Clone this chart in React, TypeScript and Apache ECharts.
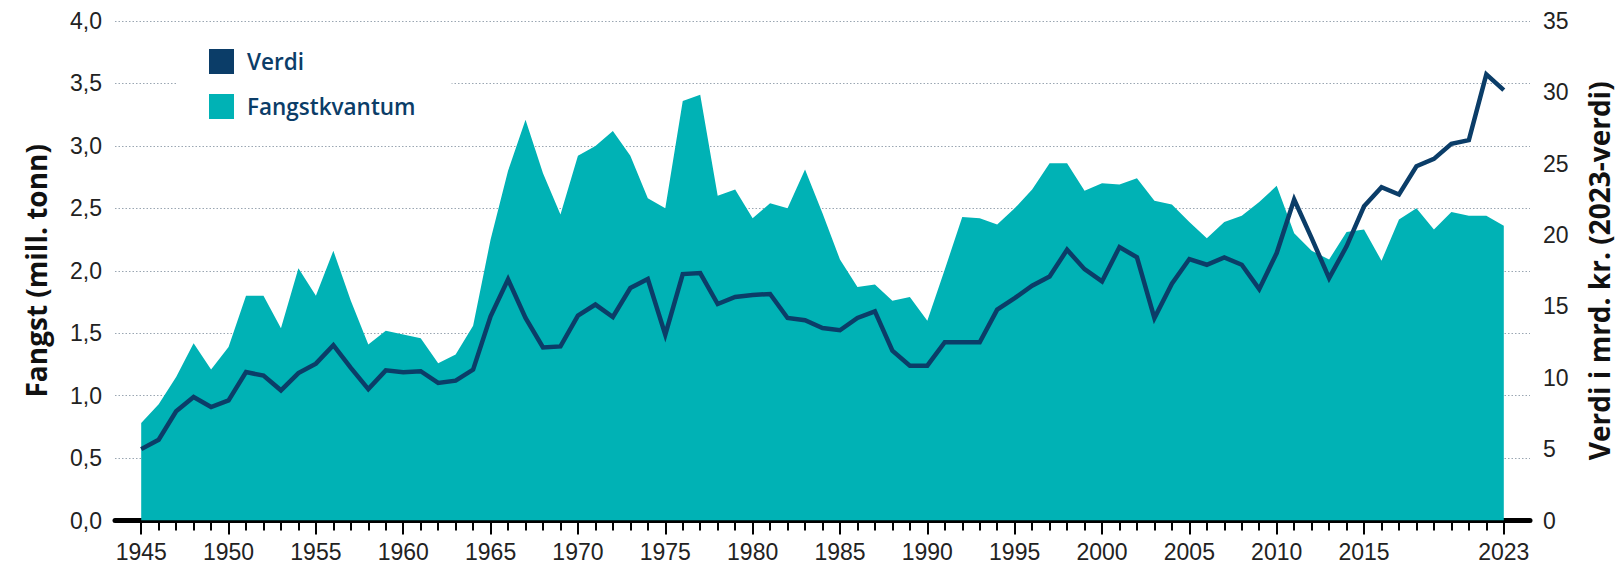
import React, { useEffect, useRef } from "react";
import * as echarts from "echarts";

const years = [
  1945, 1946, 1947, 1948, 1949, 1950, 1951, 1952, 1953, 1954,
  1955, 1956, 1957, 1958, 1959, 1960, 1961, 1962, 1963, 1964,
  1965, 1966, 1967, 1968, 1969, 1970, 1971, 1972, 1973, 1974,
  1975, 1976, 1977, 1978, 1979, 1980, 1981, 1982, 1983, 1984,
  1985, 1986, 1987, 1988, 1989, 1990, 1991, 1992, 1993, 1994,
  1995, 1996, 1997, 1998, 1999, 2000, 2001, 2002, 2003, 2004,
  2005, 2006, 2007, 2008, 2009, 2010, 2011, 2012, 2013, 2014,
  2015, 2016, 2017, 2018, 2019, 2020, 2021, 2022, 2023,
];

// Fangstkvantum, mill. tonn
const fangst = [
  0.78, 0.93, 1.15, 1.42, 1.21, 1.39, 1.8, 1.8, 1.54, 2.02,
  1.8, 2.16, 1.76, 1.41, 1.52, 1.49, 1.46, 1.26, 1.33, 1.56,
  2.25, 2.8, 3.21, 2.78, 2.45, 2.92, 3.0, 3.12, 2.92, 2.58,
  2.5, 3.36, 3.41, 2.6, 2.65, 2.42, 2.54, 2.5, 2.81, 2.46,
  2.09, 1.87, 1.89, 1.76, 1.79, 1.6, 2.01, 2.43, 2.42, 2.37,
  2.5, 2.65, 2.86, 2.86, 2.64, 2.7, 2.69, 2.74, 2.56, 2.53,
  2.39, 2.26, 2.39, 2.44, 2.55, 2.68, 2.3, 2.16, 2.09, 2.31,
  2.33, 2.08, 2.41, 2.5, 2.33, 2.47, 2.44, 2.44, 2.36,
];

// Verdi, mrd. kr. (2023-verdi)
const verdi = [
  5.0, 5.66, 7.65, 8.65, 7.95, 8.42, 10.4, 10.15, 9.12, 10.33,
  10.99, 12.28, 10.69, 9.21, 10.52, 10.39, 10.46, 9.64, 9.8, 10.57,
  14.31, 16.89, 14.2, 12.13, 12.2, 14.35, 15.13, 14.26, 16.29, 16.92,
  13.02, 17.27, 17.34, 15.17, 15.66, 15.8, 15.87, 14.19, 14.03, 13.49,
  13.33, 14.19, 14.66, 11.9, 10.85, 10.85, 12.49, 12.49, 12.49, 14.78,
  15.58, 16.45, 17.1, 18.97, 17.61, 16.75, 19.16, 18.44, 14.18, 16.59,
  18.32, 17.92, 18.44, 17.92, 16.21, 18.74, 22.49, 19.79, 16.98, 19.21,
  22.02, 23.35, 22.84, 24.82, 25.34, 26.39, 26.65, 31.26, 30.16,
];

const xTickLabels = [
  "1945", "1950", "1955", "1960", "1965", "1970", "1975", "1980",
  "1985", "1990", "1995", "2000", "2005", "2010", "2015", "2023",
];

const TEAL = "#00b2b5";
const NAVY = "#0b3d68";
const LABEL_FONT = "Liberation Sans";

export default function App() {
  const ref = useRef<HTMLDivElement>(null);

  useEffect(() => {
    if (!ref.current) return;
    const chart = echarts.init(ref.current, undefined, { renderer: "svg" });

    // one empty slot on each side of the data
    const cats = [String(years[0] - 1), ...years.map(String), String(years[years.length - 1] + 1)];
    const pad = (arr: number[]) => [null, ...arr, null];

    const isYearTick = (i: number) => i >= 1 && i <= years.length;
    const isMajor = (_i: number, v: string) => xTickLabels.includes(v);

    const option: any = {
      animation: false,
      grid: { left: 115, right: 91, top: 21, bottom: 44.5, containLabel: false },
      legend: {
        orient: "vertical",
        left: 178,
        top: 35,
        padding: [14, 36, 12, 31],
        backgroundColor: "#ffffff",
        itemWidth: 25,
        itemHeight: 25,
        itemGap: 20,
        selectedMode: false,
        data: [
          { name: "Verdi", icon: "rect" },
          { name: "Fangstkvantum", icon: "rect" },
        ],
        textStyle: {
          color: NAVY,
          fontSize: 22.5,
          fontWeight: 600,
          fontFamily: "Open Sans",
          padding: [0, 0, 0, 8],
        },
      },
      xAxis: [
        {
          type: "category",
          data: cats,
          boundaryGap: true,
          position: "bottom",
          axisLine: { show: true, onZero: false, lineStyle: { color: "#000", width: 5 } },
          axisTick: {
            show: true,
            alignWithLabel: true,
            interval: (i: number) => isYearTick(i),
            length: 10,
            lineStyle: { color: "#000", width: 2 },
          },
          axisLabel: {
            interval: isMajor,
            margin: 20,
            fontSize: 23,
            color: "#222",
            fontFamily: LABEL_FONT,
          },
          splitLine: { show: false },
        },
        {
          type: "category",
          data: cats,
          boundaryGap: true,
          position: "bottom",
          axisLine: { show: false, onZero: false },
          axisTick: {
            show: true,
            alignWithLabel: true,
            interval: isMajor,
            length: 14,
            lineStyle: { color: "#000", width: 2 },
          },
          axisLabel: { show: false },
          splitLine: { show: false },
        },
      ],
      yAxis: [
        {
          type: "value",
          position: "left",
          min: 0,
          max: 4,
          interval: 0.5,
          axisLine: { show: false },
          axisTick: { show: false },
          axisLabel: {
            margin: 13,
            fontSize: 23,
            color: "#222",
            fontFamily: LABEL_FONT,
            formatter: (v: number) => v.toFixed(1).replace(".", ","),
          },
          splitLine: {
            show: true,
            lineStyle: { color: "#9aa6b2", width: 1, type: [1.5, 2] },
          },
          name: "Fangst (mill. tonn)",
          nameLocation: "middle",
          nameRotate: 90,
          nameGap: 65,
          nameTextStyle: {
            fontSize: 28,
            fontWeight: "bold",
            color: "#111",
            fontFamily: "Open Sans",
          },
        },
        {
          type: "value",
          position: "right",
          min: 0,
          max: 35,
          interval: 5,
          axisLine: { show: false },
          axisTick: { show: false },
          axisLabel: {
            margin: 13,
            fontSize: 23,
            color: "#222",
            fontFamily: LABEL_FONT,
          },
          splitLine: { show: false },
          name: "Verdi i mrd. kr. (2023-verdi)",
          nameLocation: "middle",
          nameRotate: 90,
          nameGap: 55,
          nameTextStyle: {
            fontSize: 28,
            fontWeight: "bold",
            color: "#111",
            fontFamily: "Open Sans",
          },
        },
      ],
      series: [
        {
          name: "Fangstkvantum",
          type: "line",
          xAxisIndex: 0,
          yAxisIndex: 0,
          data: pad(fangst),
          symbol: "none",
          lineStyle: { width: 0, color: TEAL },
          itemStyle: { color: TEAL },
          areaStyle: { color: TEAL, opacity: 1 },
          z: 1,
        },
        {
          name: "Verdi",
          type: "line",
          xAxisIndex: 0,
          yAxisIndex: 1,
          data: pad(verdi),
          symbol: "none",
          lineStyle: { width: 4.5, color: NAVY, join: "miter" },
          itemStyle: { color: NAVY },
          z: 3,
        },
      ],
    };

    chart.setOption(option);
    return () => chart.dispose();
  }, []);

  return (
    <div
      ref={ref}
      style={{ position: "fixed", left: 0, top: 0, width: 1621, height: 565, background: "#fff" }}
    />
  );
}
